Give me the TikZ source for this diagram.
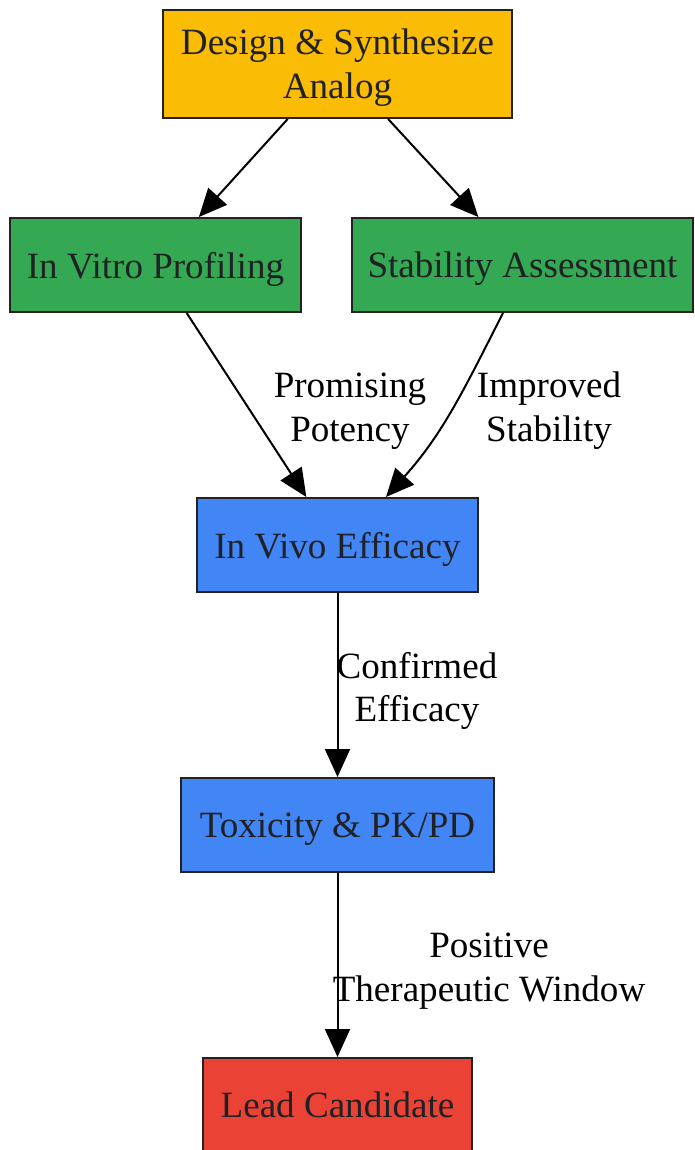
\documentclass[tikz,border=0pt]{standalone}
\usepackage{fontspec}
\setmainfont{Liberation Serif}
\usetikzlibrary{arrows.meta,calc}
\definecolor{gyellow}{HTML}{FBBC05}
\definecolor{ggreen}{HTML}{34A853}
\definecolor{gblue}{HTML}{4285F4}
\definecolor{gred}{HTML}{EA4335}
\definecolor{inktext}{HTML}{202124}
\definecolor{boxline}{HTML}{222222}
\tikzset{
	stage/.style={draw=boxline, line width=0.04cm, text=inktext, minimum height=1.88cm, align=center, inner sep=0pt, text depth=0pt, font=\fontsize{21.1}{24.9}\selectfont},
	flow/.style={-{Triangle[length=0.56cm,width=0.5cm]}, line width=0.04cm},
	note/.style={align=center, inner sep=0pt, text depth=0pt, font=\fontsize{21.1}{24.9}\selectfont}
}

\begin{document}
\begin{tikzpicture}[x=0.02cm, y=-0.02cm]
		%%%%% START %%%%%
		\useasboundingbox (0, 0) rectangle (694, 1150);
		
		\node[stage, fill=gyellow, minimum width=6.98cm, minimum height=2.16cm] (design) at (337.5, 64) {Design \& Synthesize\\Analog};
		
		\node[stage, fill=ggreen, minimum width=5.82cm] (vitro) at (155.5, 265) {In Vitro Profiling};
		\node[stage, fill=ggreen, minimum width=6.82cm] (stab) at (522.5, 265) {Stability Assessment};
		
		\node[stage, fill=gblue, minimum width=5.62cm] (vivo) at (337.5, 545) {In Vivo Efficacy};
		\node[stage, fill=gblue, minimum width=6.26cm] (tox) at (337.5, 825) {Toxicity \& PK/PD};
		
		\node[stage, fill=gred, minimum width=5.38cm] (lead) at (337.5, 1105) {Lead Candidate};
		
		\draw[flow] (design) -- (vitro);
		\draw[flow] (design) -- (stab);
		
		\draw[flow] (vitro) -- (vivo);
		\draw[flow] ($(stab.south)+(-19.5, 0)$) to[out=-117, in=48] ($(vivo.north)+(48.5, 0)$);
		
		\draw[flow] (vivo) -- (tox);
		\draw[flow] (tox) -- (lead);
		
		\node[note] (potency) at (350, 407) {Promising\\Potency};
		\node[note] (stable) at (549, 407) {Improved\\Stability};
		\node[note] (efficacy) at (417, 687) {Confirmed\\Efficacy};
		\node[note] (window) at (489, 967) {Positive\\Therapeutic Window};
		
		%%%%% END %%%%%
	\end{tikzpicture}
\end{document}
